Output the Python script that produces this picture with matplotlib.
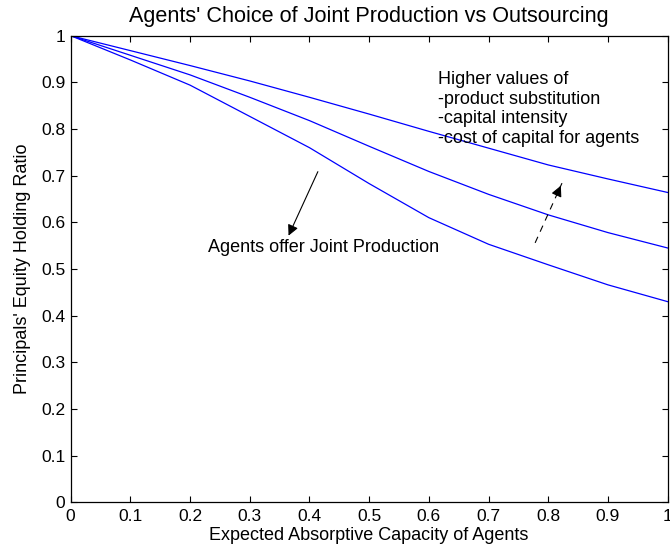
import matplotlib
matplotlib.use('Agg')
import matplotlib.pyplot as plt

# values
absorptive_capacity = [0.0, 0.1, 0.2, 0.3, 0.4, 0.5, 0.6, 0.7, 0.8, 0.9, 1.0]
ratio_high = [1.0, 0.968, 0.936, 0.903, 0.868, 0.832, 0.795, 0.759, 0.723, 0.693, 0.664]
ratio_mid = [1.0, 0.958, 0.916, 0.868, 0.818, 0.763, 0.709, 0.660, 0.616, 0.578, 0.545]
ratio_low = [1.0, 0.948, 0.894, 0.827, 0.760, 0.683, 0.610, 0.553, 0.509, 0.466, 0.430]

tick_values = [0.0, 0.1, 0.2, 0.3, 0.4, 0.5, 0.6, 0.7, 0.8, 0.9, 1.0]
tick_labels = ['0', '0.1', '0.2', '0.3', '0.4', '0.5', '0.6', '0.7', '0.8', '0.9', '1']

title = "Agents' Choice of Joint Production vs Outsourcing"
x_label = 'Expected Absorptive Capacity of Agents'
y_label = "Principals' Equity Holding Ratio"
note_joint = 'Agents offer Joint Production'
note_higher = 'Higher values of\n-product substitution\n-capital intensity\n-cost of capital for agents'

plt.rcParams['font.family'] = ['Liberation Sans', 'DejaVu Sans']
plt.rcParams['font.size'] = 13

fig = plt.figure(figsize=(6.7, 5.56), dpi=100)
ax = fig.add_axes([0.1055, 0.0966, 0.891, 0.8392])

for series in (ratio_high, ratio_mid, ratio_low):
	ax.plot(absorptive_capacity, series, color=(0, 0, 1), lw=0.9)

ax.set_xlim(0, 1)
ax.set_ylim(0, 1)
ax.set_xticks(tick_values)
ax.set_xticklabels(tick_labels)
ax.set_yticks(tick_values)
ax.set_yticklabels(tick_labels)
ax.tick_params(direction='in', length=4.5, width=0.8, top=True, right=True, labelsize=12.5)
ax.tick_params(axis='x', pad=5)
ax.tick_params(axis='y', pad=4)
for spine in ax.spines.values():
	spine.set_linewidth(0.9)

ax.set_title(title, pad=10)
ax.set_xlabel(x_label, labelpad=2)
ax.set_ylabel(y_label, labelpad=7)

# solid arrow pointing into the joint production region
ax.annotate('', xy=(0.363, 0.566), xytext=(0.416, 0.714),
	arrowprops=dict(arrowstyle='-|>', color='k', lw=0.8, mutation_scale=16))
ax.text(0.23, 0.545, note_joint, va='center', ha='left')

# dashed arrow: shaft dashed, head solid
tail = (0.778, 0.556)
tip = (0.823, 0.684)
ax.plot([tail[0], tip[0]], [tail[1], tip[1]], color='k', lw=0.8, ls=(0, (6, 5)))
head_start = (tip[0] - 0.2 * (tip[0] - tail[0]), tip[1] - 0.2 * (tip[1] - tail[1]))
ax.annotate('', xy=tip, xytext=head_start,
	arrowprops=dict(arrowstyle='-|>', color='k', lw=0.8, mutation_scale=16))
ax.text(0.616, 0.843, note_higher, va='center', ha='left', linespacing=1.2)

fig.savefig('out.png', dpi=100)
